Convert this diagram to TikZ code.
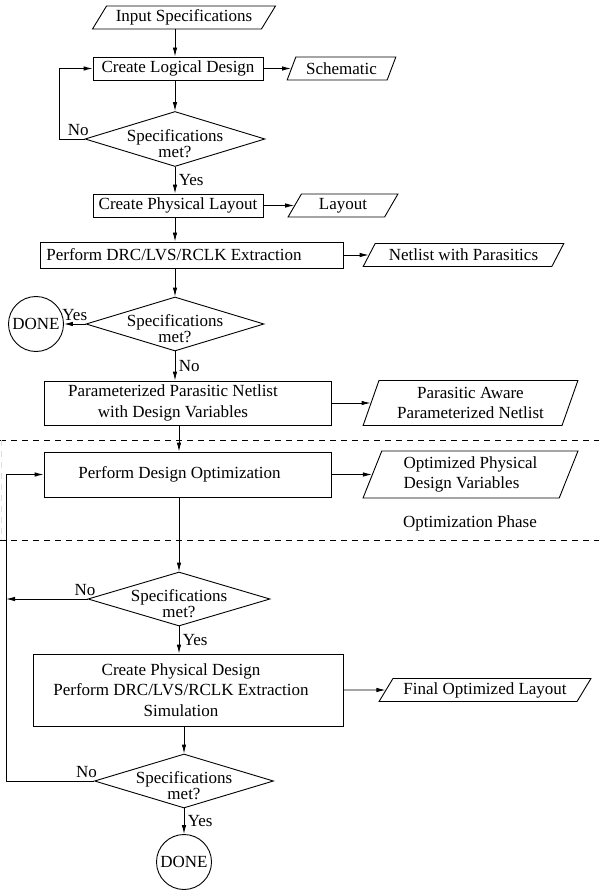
\documentclass[tikz,border=0pt]{standalone}
\usepackage{fontspec}
\setmainfont{Liberation Serif}
\usetikzlibrary{shapes.geometric, arrows.meta, calc, positioning}

\begin{document}
\begin{tikzpicture}[
    x=1pt, y=-1pt,
    >={Latex[length=9pt,width=4.5pt]},
    every node/.style={font=\fontsize{17}{20.5}\selectfont},
    process/.style={rectangle, draw, line width=0.9pt, minimum height=23pt, inner sep=2pt, align=center},
    ptext/.style={align=center},
    io/.style={trapezium, trapezium left angle=57, trapezium right angle=123, trapezium stretches=true, draw, line width=0.9pt, minimum height=23pt, inner sep=2pt, align=center},
    decision/.style={diamond, draw, line width=0.9pt, minimum width=180pt, minimum height=55pt, inner sep=0pt},
    dtext/.style={font=\fontsize{17}{16}\selectfont, align=center},
    term/.style={circle, draw, line width=0.9pt, minimum size=55pt, inner sep=0pt},
    arrow/.style={->, line width=0.9pt},
    phase/.style={dash pattern=on 6pt off 5pt, line width=0.9pt}
]
\useasboundingbox (0,0) rectangle (599,890);

% layout phase
\node[io, minimum width=183pt] (inspec) at (184,17.5) {Input Specifications};
\node[process, minimum width=170pt] (logic) at (178,68.5) {Create Logical Design};
\node[io, minimum width=109pt, trapezium left angle=66, trapezium right angle=114] (schem) at (341.5,68.5) {Schematic};
\node[decision] (dec1) at (175,139) {};
\node[dtext] (dec1t) at ([yshift=-5pt]dec1.center) {Specifications\\met?};
\node[process, minimum width=170pt] (phys) at (178,205.5) {Create Physical Layout};
\node[io, minimum width=110pt, trapezium left angle=66, trapezium right angle=114] (layout) at (343,205.5) {Layout};
\node[process, minimum width=303pt, minimum height=26pt] (drc) at (191.5,255) {};
\node[ptext] (drct) at (174,255) {Perform DRC/LVS/RCLK Extraction};
\node[io, minimum width=201pt] (netpar) at (463.5,255) {Netlist with Parasitics};
\node[decision, minimum width=178pt, minimum height=54pt] (dec2) at (175,324) {};
\node[dtext] (dec2t) at ([yshift=-5pt]dec2.center) {Specifications\\met?};
\node[term] (done1) at (36,324) {DONE};
\node[process, minimum width=287pt, minimum height=44pt] (ppn) at (187.5,403) {};
\node[ptext] (ppnt) at (173,403) {Parameterized Parasitic Netlist\\with Design Variables};
\node[io, minimum width=215pt, minimum height=45pt, trapezium left angle=70, trapezium right angle=110] (pap) at (470.5,403) {Parasitic Aware\\Parameterized Netlist};

% optimization phase
\draw[phase] (0,440) -- (599,440);
\draw[phase] (0,540) -- (599,540);
\draw[phase, gray!25] (1,440) -- (1,540);
\node[process, minimum width=287pt, minimum height=45pt] (pdo) at (187.5,474.5) {};
\node[ptext] (pdot) at (179.5,474.5) {Perform Design Optimization};
\node[io, minimum width=215pt, minimum height=47pt, trapezium left angle=70, trapezium right angle=110, align=left] (opdv) at (470.5,474.5) {Optimized Physical\\Design Variables};
\node (phaselbl) at (470,523) {Optimization Phase};

% verification
\node[decision, minimum width=182pt, minimum height=54pt] (dec3) at (179,599) {};
\node[dtext] (dec3t) at ([yshift=-5pt]dec3.center) {Specifications\\met?};
\node[process, minimum width=310pt, minimum height=72pt] (cpd) at (188,690) {};
\node[ptext] (cpdt) at (181,690) {Create Physical Design\\Perform DRC/LVS/RCLK Extraction\\Simulation};
\node[io, minimum width=212pt] (fol) at (485,690) {Final Optimized Layout};
\node[decision, minimum width=179pt, minimum height=54pt] (dec4) at (184,781) {};
\node[dtext] (dec4t) at ([yshift=-5pt]dec4.center) {Specifications\\met?};
\node[term] (done2) at (184,862) {DONE};
\coordinate (back) at (6,540);

% main flow
\draw[arrow] (inspec.south -| dec1) -- (logic.north -| dec1);
\draw[arrow] (logic.south -| dec1) -- (dec1);
\draw[arrow] (dec1) -- (phys.north -| dec1) node[midway, right] {Yes};
\draw[arrow] (phys.south -| dec1) -- (drc.north -| dec1);
\draw[arrow] (drc.south -| dec2) -- (dec2);
\draw[arrow] (dec2) -- (ppn.north -| dec2) node[midway, right] {No};
\draw[arrow] (ppn.south -| dec3) -- (pdo.north -| dec3);
\draw[arrow] (pdo.south -| dec3) -- (dec3);
\draw[arrow] (dec3) -- (cpd.north -| dec3) node[midway, right] {Yes};
\draw[arrow] (cpd.south -| dec4) -- (dec4);
\draw[arrow] (dec4) -- (done2) node[midway, right] {Yes};

% outputs
\draw[arrow] (logic) -- (schem);
\draw[arrow] (phys) -- (layout);
\draw[arrow] (drc) -- (netpar);
\draw[arrow] (ppn) -- (pap);
\draw[arrow] (pdo) -- (opdv);
\draw[arrow] (cpd) -- (fol);

% loops
\draw[arrow] (dec1.west) -- ++(-25,0) node[pos=0.25, above] {No} |- (logic.west);
\draw[arrow] (dec2) -- (done1) node[midway, above] {Yes};
\draw[arrow] (dec3.west) -- (dec3.west -| back) node[pos=0.03, above] {No};
\draw[arrow] (dec4.west) -- (dec4.west -| back) node[pos=0.085, above] {No} |- (pdo.west);

\end{tikzpicture}
\end{document}
